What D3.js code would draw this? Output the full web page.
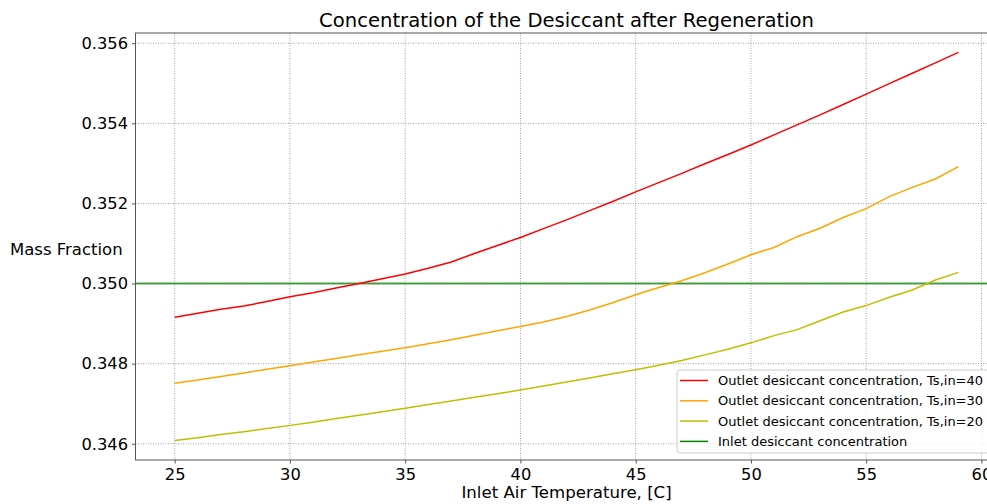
<!DOCTYPE html>
<html>
<head>
<meta charset="utf-8">
<script src="https://cdn.jsdelivr.net/npm/d3@7"></script>
<style>
  html, body { margin: 0; padding: 0; background: #fff; overflow: hidden; }
  text { font-family: "DejaVu Sans", sans-serif; fill: #000; }
</style>
</head>
<body>
<svg id="chart" width="987" height="504"></svg>
<script>
// Inlet air temperature, [C]
const temps = [25,26,27,28,29,30,31,32,33,34,35,36,37,38,39,40,41,42,43,44,45,46,47,48,49,50,51,52,53,54,55,56,57,58,59];

// Outlet desiccant mass fraction for each solution inlet temperature
const outlet40 = [0.34916,0.34926,0.34936,0.34944,0.34955,0.34967,0.34977,0.34989,0.35000,0.35012,
                  0.35024,0.35038,0.35054,0.35075,0.35095,0.35115,0.35137,0.35159,0.35182,0.35205,
                  0.35229,0.35252,0.35275,0.35299,0.35322,0.35346,0.35371,0.35396,0.35421,0.35447,
                  0.35473,0.35499,0.35525,0.35551,0.35577];
const outlet30 = [0.34751,0.34759,0.34768,0.34777,0.34786,0.34795,0.34804,0.34813,0.34822,0.34831,
                  0.34840,0.34850,0.34860,0.34871,0.34882,0.34893,0.34904,0.34918,0.34934,0.34952,
                  0.34972,0.34990,0.35007,0.35027,0.35049,0.35072,0.35090,0.35117,0.35138,0.35165,
                  0.35187,0.35217,0.35240,0.35261,0.35292];
const outlet20 = [0.34608,0.34615,0.34623,0.34630,0.34638,0.34646,0.34654,0.34663,0.34671,0.34680,
                  0.34689,0.34698,0.34707,0.34716,0.34725,0.34734,0.34744,0.34754,0.34764,0.34775,
                  0.34785,0.34796,0.34808,0.34822,0.34836,0.34852,0.34870,0.34885,0.34907,0.34929,
                  0.34945,0.34966,0.34984,0.35009,0.35028];
const inletConcentration = 0.35;

const seriesNames = [
  "Outlet desiccant concentration, Ts,in=40",
  "Outlet desiccant concentration, Ts,in=30",
  "Outlet desiccant concentration, Ts,in=20",
  "Inlet desiccant concentration"
];
const seriesColors = ["#ff0000", "#ffa500", "#bfbf00", "#008000"];

const xTicks = [25,30,35,40,45,50,55,60];
const yTicks = [0.346,0.348,0.350,0.352,0.354,0.356];

const svg = d3.select("#chart");
const plot = { left: 135.5, top: 33, right: 997.6, bottom: 460 };

// axis limits padded by 5% of the data span on each side
const allY = outlet40.concat(outlet30, outlet20, [inletConcentration]);
const xMin = d3.min(temps), xMax = d3.max(temps);
const yMin = d3.min(allY), yMax = d3.max(allY);
const xPad = (xMax - xMin) * 0.05, yPad = (yMax - yMin) * 0.05;

const x = d3.scaleLinear().domain([xMin - xPad, xMax + xPad]).range([plot.left, plot.right]);
const y = d3.scaleLinear().domain([yMin - yPad, yMax + yPad]).range([plot.bottom, plot.top]);

// grid
const grid = svg.append("g");
grid.selectAll("line.gx").data(xTicks).join("line")
  .attr("x1", d => x(d)).attr("x2", d => x(d))
  .attr("y1", plot.top).attr("y2", plot.bottom)
  .attr("stroke", "#8a8a8a").attr("stroke-width", 0.8).attr("stroke-dasharray", "1,1.5");
grid.selectAll("line.gy").data(yTicks).join("line")
  .attr("x1", plot.left).attr("x2", plot.right)
  .attr("y1", d => y(d)).attr("y2", d => y(d))
  .attr("stroke", "#8a8a8a").attr("stroke-width", 0.8).attr("stroke-dasharray", "1,1.5");

// inlet reference line
svg.append("line")
  .attr("x1", plot.left).attr("x2", plot.right)
  .attr("y1", y(inletConcentration)).attr("y2", y(inletConcentration))
  .attr("stroke", seriesColors[3]).attr("stroke-opacity", 0.7).attr("stroke-width", 2);

// outlet curves
const line = d3.line().x((d, i) => x(temps[i])).y(d => y(d));
[outlet40, outlet30, outlet20].forEach((vals, k) => {
  svg.append("path").datum(vals)
    .attr("d", line)
    .attr("fill", "none")
    .attr("stroke", seriesColors[k])
    .attr("stroke-width", 1.5);
});

// spines
const spine = "#555";
svg.append("rect")
  .attr("x", plot.left).attr("y", plot.top)
  .attr("width", plot.right - plot.left).attr("height", plot.bottom - plot.top)
  .attr("fill", "none").attr("stroke", spine).attr("stroke-width", 1);

// axes
const xAxis = svg.append("g").attr("transform", `translate(0,${plot.bottom})`)
  .call(d3.axisBottom(x).tickValues(xTicks).tickFormat(d3.format("d")).tickSize(3.5).tickPadding(5));
const yAxis = svg.append("g").attr("transform", `translate(${plot.left},0)`)
  .call(d3.axisLeft(y).tickValues(yTicks).tickFormat(d3.format(".3f")).tickSize(3.5).tickPadding(4));
[xAxis, yAxis].forEach(a => {
  a.select(".domain").remove();
  a.selectAll(".tick line").attr("stroke", spine);
  a.selectAll(".tick text").attr("font-size", 16.3).attr("font-family", "DejaVu Sans").attr("fill", "#000");
});

// titles
svg.append("text")
  .attr("x", (plot.left + plot.right) / 2).attr("y", 27)
  .attr("text-anchor", "middle").attr("font-size", 19.6)
  .text("Concentration of the Desiccant after Regeneration");
svg.append("text")
  .attr("x", (plot.left + plot.right) / 2).attr("y", 498)
  .attr("text-anchor", "middle").attr("font-size", 16.6)
  .text("Inlet Air Temperature, [C]");
svg.append("text")
  .attr("x", 10).attr("y", 255)
  .attr("font-size", 16.5)
  .text("Mass Fraction");

// legend
const lg = svg.append("g").attr("transform", "translate(677,370)");
lg.append("rect")
  .attr("x", 0).attr("y", 0).attr("width", 330).attr("height", 83)
  .attr("rx", 3).attr("fill", "#fff").attr("fill-opacity", 0.8)
  .attr("stroke", "#cccccc").attr("stroke-width", 1);
seriesNames.forEach((name, i) => {
  const cy = 10.5 + i * 20.3;
  lg.append("line")
    .attr("x1", 3).attr("x2", 31).attr("y1", cy).attr("y2", cy)
    .attr("stroke", seriesColors[i]).attr("stroke-width", 1.5);
  lg.append("text")
    .attr("x", 41).attr("y", cy).attr("dy", "0.35em")
    .attr("font-size", 13)
    .text(name);
});
</script>
</body>
</html>
